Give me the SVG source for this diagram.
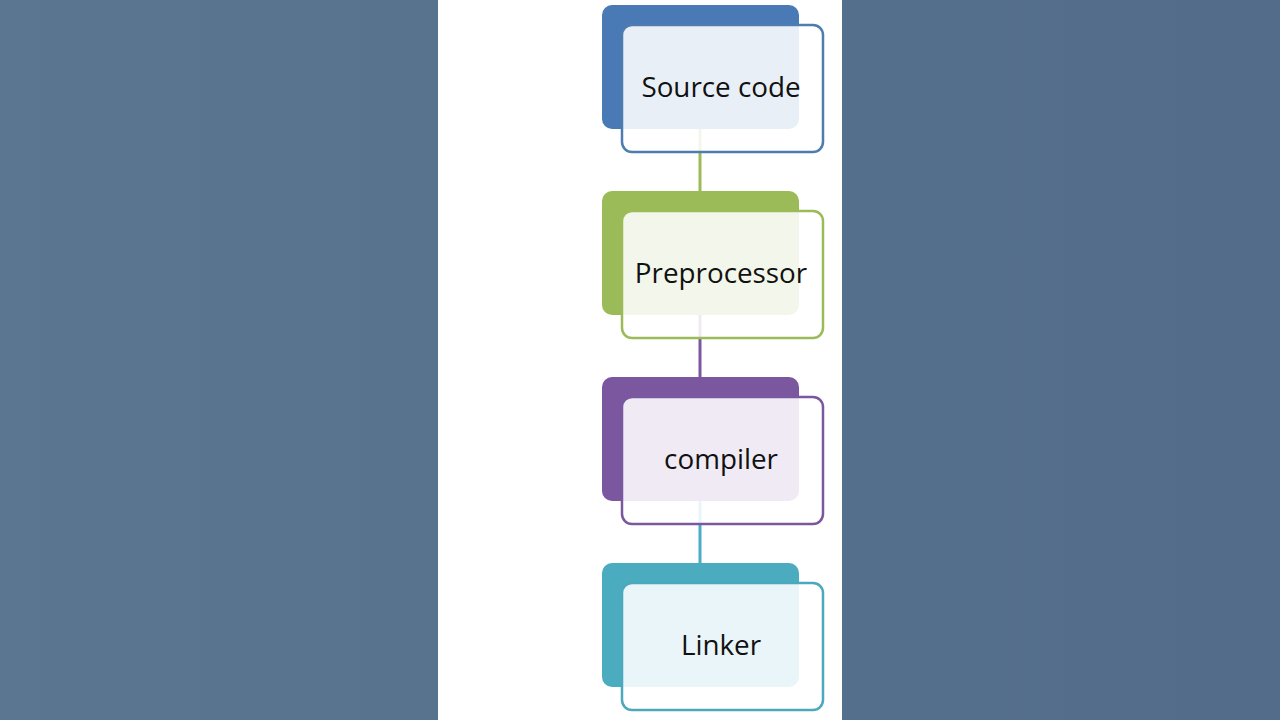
<svg xmlns="http://www.w3.org/2000/svg" width="1280" height="720" viewBox="0 0 1280 720">
<defs>
<linearGradient id="bg" x1="0" y1="0" x2="1" y2="0">
<stop offset="0" stop-color="#5a7690"/>
<stop offset="1" stop-color="#526c89"/>
</linearGradient>
</defs>
<style>
.back{stroke:none}
.front{fill:#ffffff;fill-opacity:0.88;stroke-width:2.5}
.lbl{font-family:"Open Sans","Noto Sans",sans-serif;font-size:27.8px;fill:#111;text-anchor:middle;dominant-baseline:central}
.conn{stroke-width:3}
</style>
<rect x="0" y="0" width="1280" height="720" fill="url(#bg)"/>
<rect x="438" y="0" width="404" height="720" fill="#ffffff"/>
<g id="connectors">
<line class="conn" x1="700" y1="129" x2="700" y2="191" stroke="#9bbb59"/>
<line class="conn" x1="700" y1="315" x2="700" y2="377" stroke="#7b57a0"/>
<line class="conn" x1="700" y1="500" x2="700" y2="563" stroke="#4bacc6"/>
</g>
<g id="node-source">
<rect class="back" x="602" y="5" width="197" height="124" rx="10" fill="#4a7ab5"/>
<rect class="front" x="622" y="25" width="201" height="127" rx="10" stroke="#4f7cb0"/>
<text class="lbl" x="721" y="86">Source code</text>
</g>
<g id="node-preprocessor">
<rect class="back" x="602" y="191" width="197" height="124" rx="10" fill="#9bbb59"/>
<rect class="front" x="622" y="211" width="201" height="127" rx="10" stroke="#9bbb59"/>
<text class="lbl" x="721" y="272">Preprocessor</text>
</g>
<g id="node-compiler">
<rect class="back" x="602" y="377" width="197" height="124" rx="10" fill="#7b57a0"/>
<rect class="front" x="622" y="397" width="201" height="127" rx="10" stroke="#7b57a0"/>
<text class="lbl" x="721" y="458">compiler</text>
</g>
<g id="node-linker">
<rect class="back" x="602" y="563" width="197" height="124" rx="10" fill="#4bacc0"/>
<rect class="front" x="622" y="583" width="201" height="127" rx="10" stroke="#4ba8bd"/>
<text class="lbl" x="721" y="644">Linker</text>
</g>
</svg>
